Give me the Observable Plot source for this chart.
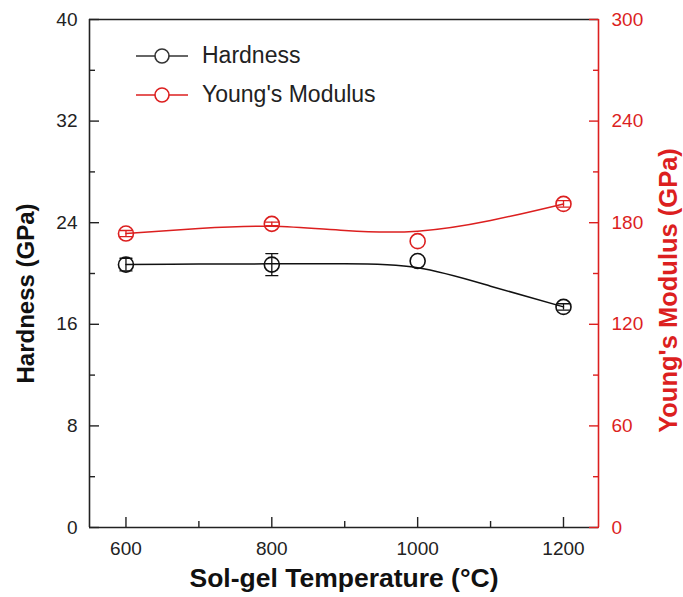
<!DOCTYPE html>
<html>
<head>
<meta charset="utf-8">
<script src="https://cdn.jsdelivr.net/npm/d3@7"></script>
<script src="https://cdn.jsdelivr.net/npm/@observablehq/plot@0.6"></script>
<style>
  body { margin: 0; background: #fff; }
  #chart { position: relative; width: 683px; height: 597px; font-family: "Liberation Sans", Arial, sans-serif; }
  #legend { position: absolute; left: 130px; top: 36px; font-size: 23px; color: #222; }
  #legend .row { display: flex; align-items: center; height: 39px; }
  #legend svg { margin-right: 10px; }
</style>
</head>
<body>
<div id="chart"><div id="legend"></div></div>
<script>
// Measured values per sol-gel temperature
const temperatures = [600, 800, 1000, 1200];
const hardness = [20.7, 20.7, 20.98, 17.37];        // GPa
const hardnessErr = [0.5, 0.87, 0, 0.25];
const modulus = [173.6, 179.3, 169.1, 191.1];       // GPa
const modulusErr = [1.8, 1.0, 0, 1.95];

// Smoothed trend curves
const fitTemperatures = [600, 700, 800, 900, 1000, 1100, 1200];
const hardnessFit = [20.7, 20.74, 20.76, 20.76, 20.45, 19.0, 17.37];
const modulusFit = [173.6, 176.6, 177.9, 175.4, 175.0, 181.3, 191.1];

// Axis ticks
const tempTicks = [600, 800, 1000, 1200];
const tempMinor = [700, 900, 1100];
const hardnessTicks = [0, 8, 16, 24, 32, 40];
const hardnessMinor = [4, 12, 20, 28, 36];
const modulusTicks = [0, 60, 120, 180, 240, 300];
const modulusMinor = [30, 90, 150, 210, 270];

const xDomain = [550, 1248];
const yDomain = [0, 40];
const modulusMax = 300;
const k = yDomain[1] / modulusMax;   // modulus -> hardness axis units

const RED = "#dc1f1f";
const INK = "#222";

const points = temperatures.map((t, i) => ({
  t, h: hardness[i], he: hardnessErr[i], e: modulus[i] * k, ee: modulusErr[i] * k
}));
const hardnessBars = points.filter(d => d.he > 0);
const modulusBars = points.filter(d => d.ee > 0);
const fit = fitTemperatures.map((t, i) => ({ t, h: hardnessFit[i], e: modulusFit[i] * k }));

// horizontal cap for error bars
const cap = { draw(context, l) { context.moveTo(-l / 2, 0); context.lineTo(l / 2, 0); } };
const capOpts = { length: 12, rotate: 0, anchor: "start", shape: cap, strokeWidth: 1.3 };

const chart = Plot.plot({
  width: 683,
  height: 597,
  marginLeft: 89,
  marginRight: 85,
  marginTop: 19,
  marginBottom: 70,
  style: { fontFamily: "Liberation Sans, Arial, sans-serif", background: "white" },
  x: { domain: xDomain },
  y: { domain: yDomain },
  marks: [
    // frame
    Plot.ruleY([yDomain[1]], { stroke: INK, strokeWidth: 1.6 }),
    Plot.ruleY([yDomain[0]], { stroke: INK, strokeWidth: 1.6 }),
    Plot.ruleX([xDomain[0]], { stroke: INK, strokeWidth: 1.6 }),
    Plot.ruleX([xDomain[1]], { stroke: RED, strokeWidth: 1.6 }),

    // bottom axis
    Plot.axisX(tempTicks, { tickSize: -10, tickPadding: 24, tickFormat: d => String(d), stroke: INK, strokeWidth: 1.4, fontSize: 19, color: INK, label: null }),
    Plot.axisX(tempMinor, { tickSize: -6, tickFormat: () => "", stroke: INK, strokeWidth: 1.4, label: null }),
    // left axis
    Plot.axisY(hardnessTicks, { anchor: "left", tickSize: -10, tickPadding: 22, stroke: INK, strokeWidth: 1.4, fontSize: 19, color: INK, label: null }),
    Plot.axisY(hardnessMinor, { anchor: "left", tickSize: -6, tickFormat: () => "", stroke: INK, strokeWidth: 1.4, label: null }),
    // right axis (Young's modulus)
    Plot.axisY(modulusTicks.map(v => v * k), { anchor: "right", tickSize: -10, tickPadding: 23, stroke: RED, strokeWidth: 1.4, fontSize: 19, color: RED, fill: RED, tickFormat: v => String(Math.round(v / k)), label: null }),
    Plot.axisY(modulusMinor.map(v => v * k), { anchor: "right", tickSize: -6, tickFormat: () => "", stroke: RED, strokeWidth: 1.4, label: null }),

    // axis titles
    Plot.text(["Sol-gel Temperature (°C)"], { frameAnchor: "bottom", dy: 51, fontSize: 26.5, fontWeight: "bold", fill: "#111", lineAnchor: "middle", textAnchor: "middle" }),
    Plot.text(["Hardness (GPa)"], { frameAnchor: "left", rotate: -90, dx: -63, dy: 20, fontSize: 24, fontWeight: "bold", fill: "#111", lineAnchor: "middle", textAnchor: "middle" }),
    Plot.text(["Young's Modulus (GPa)"], { frameAnchor: "right", rotate: -90, dx: 70, dy: 17, fontSize: 25.5, fontWeight: "bold", fill: RED, lineAnchor: "middle", textAnchor: "middle" }),

    // trend curves
    Plot.line(fit, { x: "t", y: "h", curve: "natural", stroke: "#111", strokeWidth: 1.5 }),
    Plot.line(fit, { x: "t", y: "e", curve: "natural", stroke: RED, strokeWidth: 1.5 }),

    // error bars
    Plot.ruleX(hardnessBars, { x: "t", y1: d => d.h - d.he, y2: d => d.h + d.he, stroke: "#111", strokeWidth: 1.3 }),
    Plot.vector(hardnessBars, { x: "t", y: d => d.h - d.he, stroke: "#111", ...capOpts }),
    Plot.vector(hardnessBars, { x: "t", y: d => d.h + d.he, stroke: "#111", ...capOpts }),
    Plot.ruleX(modulusBars, { x: "t", y1: d => d.e - d.ee, y2: d => d.e + d.ee, stroke: RED, strokeWidth: 1.3 }),
    Plot.vector(modulusBars, { x: "t", y: d => d.e - d.ee, stroke: RED, ...capOpts }),
    Plot.vector(modulusBars, { x: "t", y: d => d.e + d.ee, stroke: RED, ...capOpts }),

    // markers
    Plot.dot(points, { x: "t", y: "h", r: 7.5, stroke: "#111", fill: "none", strokeWidth: 1.6 }),
    Plot.dot(points, { x: "t", y: "e", r: 7.5, stroke: RED, fill: "none", strokeWidth: 1.6 })
  ]
});

const host = document.getElementById("chart");
host.insertBefore(chart, host.firstChild);

// legend
const legendItems = [
  { label: "Hardness", color: "#333" },
  { label: "Young's Modulus", color: RED }
];
const legend = document.getElementById("legend");
for (const item of legendItems) {
  const row = document.createElement("div");
  row.className = "row";
  row.innerHTML = `<svg width="62" height="20"><line x1="6" y1="10" x2="58" y2="10" stroke="${item.color}" stroke-width="1.6"/><circle cx="32" cy="10" r="7" fill="white" stroke="${item.color}" stroke-width="1.6"/></svg><span>${item.label}</span>`;
  legend.appendChild(row);
}
</script>
</body>
</html>
